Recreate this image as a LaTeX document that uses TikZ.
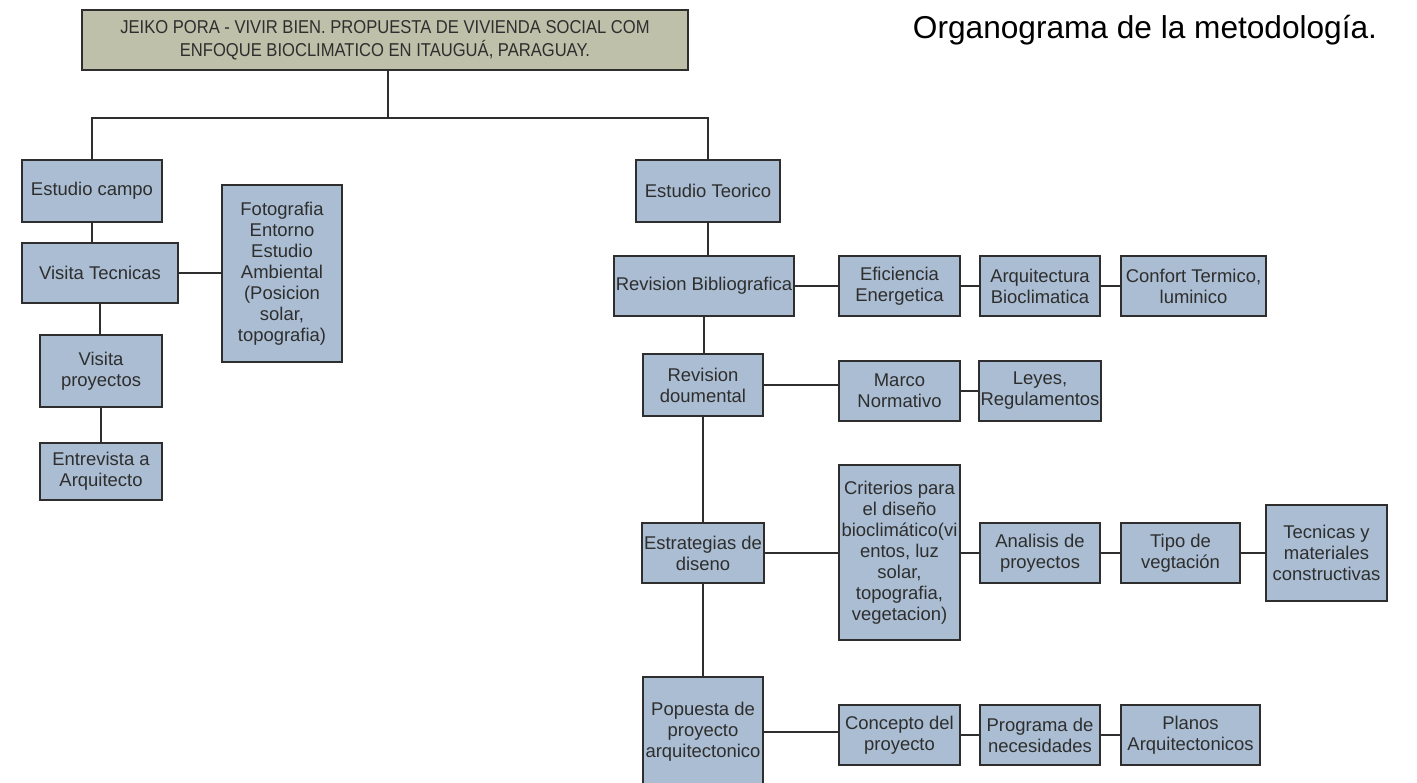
\documentclass[tikz,border=0pt]{standalone}
\usepackage{fontspec}
\setmainfont{Liberation Sans}
\newfontfamily\narrowfont[FakeStretch=0.89]{Liberation Sans}
\usepackage{tikz}
\definecolor{boxblue}{HTML}{AABDD2}
\definecolor{titlegrey}{HTML}{BEC0AA}
\definecolor{inkgrey}{HTML}{2E2E2E}
\tikzset{
	orgbox/.style={draw=inkgrey, line width=1.1pt, fill=boxblue, align=center, inner sep=1pt,
		text=inkgrey, font=\fontsize{10.5}{12}\selectfont},
	titlebox/.style={orgbox, fill=titlegrey, font=\narrowfont\fontsize{10.6}{13}\selectfont},
	link/.style={draw=inkgrey, line width=1.3pt}
}
\begin{document}
\begin{tikzpicture}[x=0.02cm, y=-0.02cm]
			%%%%% START %%%%%
			\useasboundingbox[fill=white] (0, 0) rectangle (1417, 782);
			
			\node[titlebox, minimum width=606*0.02cm, minimum height=60*0.02cm] (title) at (385, 40) {JEIKO PORA - VIVIR BIEN. PROPUESTA DE VIVIENDA SOCIAL COM\\ENFOQUE BIOCLIMATICO EN ITAUGUÁ, PARAGUAY.};
			\node[text=black, font=\fontsize{18}{20}\selectfont] (caption) at (1145, 30) {Organograma de la metodología.};
			\coordinate (split) at (388, 118);
			
			% estudio campo
			\node[orgbox, minimum width=140*0.02cm, minimum height=62*0.02cm] (campo) at (92, 191) {Estudio campo};
			\node[orgbox, minimum width=156*0.02cm, minimum height=60*0.02cm] (tecnicas) at (100, 273) {Visita Tecnicas};
			\node[orgbox, minimum width=120*0.02cm, minimum height=177*0.02cm] (foto) at (282, 273.5) {Fotografia\\Entorno\\Estudio\\Ambiental\\(Posicion\\solar,\\topografia)};
			\node[orgbox, minimum width=122*0.02cm, minimum height=72*0.02cm] (proy) at (101, 371) {Visita\\proyectos};
			\node[orgbox, minimum width=122*0.02cm, minimum height=57*0.02cm] (entrev) at (101, 471.5) {Entrevista a\\Arquitecto};
			
			% estudio teorico
			\node[orgbox, minimum width=144*0.02cm, minimum height=62*0.02cm] (teorico) at (708, 191) {Estudio Teorico};
			\node[orgbox, minimum width=178*0.02cm, minimum height=60*0.02cm] (biblio) at (704, 286) {Revision Bibliografica};
			\node[orgbox, minimum width=121*0.02cm, minimum height=60*0.02cm] (efic) at (899.5, 286) {Eficiencia\\Energetica};
			\node[orgbox, minimum width=120*0.02cm, minimum height=60*0.02cm] (arqbio) at (1040, 286) {Arquitectura\\Bioclimatica};
			\node[orgbox, minimum width=145*0.02cm, minimum height=60*0.02cm] (confort) at (1193.5, 286) {Confort Termico,\\luminico};
			
			\node[orgbox, minimum width=120*0.02cm, minimum height=62*0.02cm] (docum) at (703, 385) {Revision\\doumental};
			\node[orgbox, minimum width=121*0.02cm, minimum height=60*0.02cm] (marco) at (899.5, 391) {Marco\\Normativo};
			\node[orgbox, minimum width=120*0.02cm, minimum height=60*0.02cm] (leyes) at (1040, 391) {Leyes,\\Regulamentos};
			
			\node[orgbox, minimum width=120*0.02cm, minimum height=60*0.02cm] (estrat) at (703, 553) {Estrategias de\\diseno};
			\node[orgbox, minimum width=121*0.02cm, minimum height=175*0.02cm] (criterios) at (899.5, 552.5) {Criterios para\\el diseño\\bioclimático(vi\\entos, luz\\solar,\\topografia,\\vegetacion)};
			\node[orgbox, minimum width=120*0.02cm, minimum height=60*0.02cm] (analisis) at (1040, 553) {Analisis de\\proyectos};
			\node[orgbox, minimum width=119*0.02cm, minimum height=60*0.02cm] (vegtacion) at (1180.5, 553) {Tipo de\\vegtación};
			\node[orgbox, minimum width=121*0.02cm, minimum height=96*0.02cm] (materiales) at (1326.5, 553) {Tecnicas y\\materiales\\constructivas};
			
			\node[orgbox, minimum width=120*0.02cm, minimum height=110*0.02cm] (propuesta) at (703, 732) {Popuesta de\\proyecto\\arquitectonico};
			\node[orgbox, minimum width=121*0.02cm, minimum height=60*0.02cm] (concepto) at (899.5, 735) {Concepto del\\proyecto};
			\node[orgbox, minimum width=120*0.02cm, minimum height=60*0.02cm] (programa) at (1040, 735) {Programa de\\necesidades};
			\node[orgbox, minimum width=139*0.02cm, minimum height=60*0.02cm] (planos) at (1190.5, 735) {Planos\\Arquitectonicos};
			
			% links
			\draw[link] (title.south -| split) -- (split);
			\draw[link] (campo.north) |- (split) -| (teorico.north);
			\draw[link] (campo.south) -- (campo.south |- tecnicas.north);
			\draw[link] (tecnicas.east) -- (tecnicas.east -| foto.west);
			\draw[link] (tecnicas.south) -- (tecnicas.south |- proy.north);
			\draw[link] (proy.south) -- (entrev.north);
			
			\draw[link] (teorico.south) -- (teorico.south |- biblio.north);
			\draw[link] (biblio.south) -- (biblio.south |- docum.north);
			\draw[link] (docum.south) -- (estrat.north);
			\draw[link] (estrat.south) -- (propuesta.north);
			
			\draw[link] (biblio.east) -- (efic.west);
			\draw[link] (efic.east) -- (arqbio.west);
			\draw[link] (arqbio.east) -- (confort.west);
			\draw[link] (docum.east) -- (docum.east -| marco.west);
			\draw[link] (marco.east) -- (leyes.west);
			\draw[link] (estrat.east) -- (criterios.west |- estrat.east);
			\draw[link] (criterios.east |- analisis.west) -- (analisis.west);
			\draw[link] (analisis.east) -- (vegtacion.west);
			\draw[link] (vegtacion.east) -- (materiales.west);
			\draw[link] (propuesta.east) -- (propuesta.east -| concepto.west);
			\draw[link] (concepto.east) -- (programa.west);
			\draw[link] (programa.east) -- (planos.west);
			%%%%% END %%%%%
\end{tikzpicture}
\end{document}
